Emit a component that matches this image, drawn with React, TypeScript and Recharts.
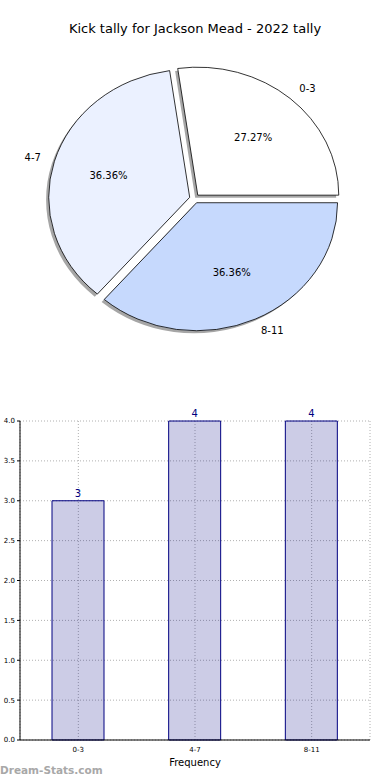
import React from 'react';
import { PieChart, Pie, Cell, BarChart, Bar, XAxis, YAxis, CartesianGrid, LabelList } from 'recharts';

const categories = ['0-3', '4-7', '8-11'];
const counts = [3, 4, 4];
const sliceColors = ['#ffffff', '#ebf1ff', '#c6d9fd'];
const yTicks = [0, 0.5, 1, 1.5, 2, 2.5, 3, 3.5, 4];

const pieData = categories.map((name, i) => ({ name, value: counts[i] }));
const barData = categories.map((name, i) => ({ name, count: counts[i] }));

// matplotlib pie without axis('equal') -> squashed vertically
const KY = 128 / 141;
const EXPLODE = 5;
const RAD = Math.PI / 180;
const FONT = '"DejaVu Sans", sans-serif';

const wedgePath = (p: any, sx = 0, sy = 0) => {
  const { cx, cy, outerRadius: r, startAngle, endAngle, midAngle } = p;
  const ox = cx + EXPLODE * Math.cos(midAngle * RAD) + sx;
  const oy = cy - EXPLODE * KY * Math.sin(midAngle * RAD) + sy;
  const pt = (a: number) => [ox + r * Math.cos(a * RAD), oy - r * KY * Math.sin(a * RAD)];
  const [x1, y1] = pt(startAngle);
  const [x2, y2] = pt(endAngle);
  const large = Math.abs(endAngle - startAngle) > 180 ? 1 : 0;
  return `M${ox},${oy} L${x1},${y1} A${r},${r * KY} 0 ${large} 0 ${x2},${y2} Z`;
};

const ShadowShape = (p: any) => <path d={wedgePath(p, -2.6, 2.6)} fill="#000" fillOpacity={0.35} />;

const WedgeShape = (p: any) => <path d={wedgePath(p)} fill={p.fill} stroke="#000" strokeWidth={0.8} />;

const renderLabels = (p: any) => {
  const { cx, cy, outerRadius: r, midAngle, percent, name } = p;
  const c = Math.cos(midAngle * RAD);
  const s = Math.sin(midAngle * RAD);
  const ox = cx + EXPLODE * c;
  const oy = cy - EXPLODE * KY * s;
  return (
    <g>
      <text x={ox + 1.1 * r * c} y={oy - 1.1 * r * KY * s} textAnchor={c > 0 ? 'start' : 'end'}
        dominantBaseline="central" fontSize={10} fontFamily={FONT} fill="#000">{name}</text>
      <text x={ox + 0.6 * r * c} y={oy - 0.6 * r * KY * s} textAnchor="middle"
        dominantBaseline="central" fontSize={10} fontFamily={FONT} fill="#000">{(percent * 100).toFixed(2)}%</text>
    </g>
  );
};

export default function App() {
  return (
    <div style={{ position: 'absolute', left: 0, top: 0, width: 390, height: 780, background: '#fff', fontFamily: FONT }}>
      <div style={{ position: 'absolute', top: 21, left: 0, width: 390, textAlign: 'center', fontSize: 13, color: '#000' }}>
        Kick tally for Jackson Mead - 2022 tally
      </div>
      <div style={{ position: 'absolute', top: 0, left: 0 }}>
        <PieChart width={390} height={370} margin={{ top: 0, right: 0, bottom: 0, left: 0 }}>
          <Pie data={pieData} dataKey="value" nameKey="name" cx={194.5} cy={198.6} outerRadius={141}
            startAngle={0} endAngle={360} isAnimationActive={false} shape={ShadowShape} labelLine={false} stroke="none">
            {pieData.map((d, i) => <Cell key={d.name} fill={sliceColors[i]} />)}
          </Pie>
          <Pie data={pieData} dataKey="value" nameKey="name" cx={194.5} cy={198.6} outerRadius={141}
            startAngle={0} endAngle={360} isAnimationActive={false} shape={WedgeShape}
            label={renderLabels} labelLine={false}>
            {pieData.map((d, i) => <Cell key={d.name} fill={sliceColors[i]} />)}
          </Pie>
        </PieChart>
      </div>
      <div style={{ position: 'absolute', top: 400, left: 0 }}>
        <BarChart width={390} height={380} data={barData} margin={{ top: 21, right: 20, left: 0, bottom: 0 }}>
          <CartesianGrid stroke="#b0b0b0" strokeDasharray="1 2" />
          <XAxis dataKey="name" height={40} tickLine={false} tickMargin={1} stroke="#000"
            tick={{ fontSize: 7, fill: '#000', fontFamily: FONT }}
            label={{ value: 'Frequency', position: 'insideBottom', offset: 14, fontSize: 10, fill: '#000', fontFamily: FONT }} />
          <XAxis xAxisId="top" dataKey="name" orientation="top" height={0} tick={false} tickLine={false} stroke="#000" />
          <YAxis domain={[0, 4]} ticks={yTicks} width={20} tickSize={3} tickMargin={2} stroke="#000"
            tickFormatter={(v: number) => v.toFixed(1)} tick={{ fontSize: 7, fill: '#000', fontFamily: FONT }} />
          <YAxis yAxisId="right" orientation="right" domain={[0, 4]} width={0} tick={false} tickLine={false} stroke="#000" />
          <Bar dataKey="count" barSize={52} fill="#000080" fillOpacity={0.2} stroke="#000080" strokeWidth={1}
            isAnimationActive={false}>
            <LabelList dataKey="count" position="top" offset={4} fill="#000080" fontSize={10} fontFamily={FONT} />
          </Bar>
        </BarChart>
      </div>
      <div style={{ position: 'absolute', left: 0, top: 764, fontSize: 10.5, fontWeight: 'bold', color: '#a8a8a8' }}>
        Dream-Stats.com
      </div>
    </div>
  );
}
